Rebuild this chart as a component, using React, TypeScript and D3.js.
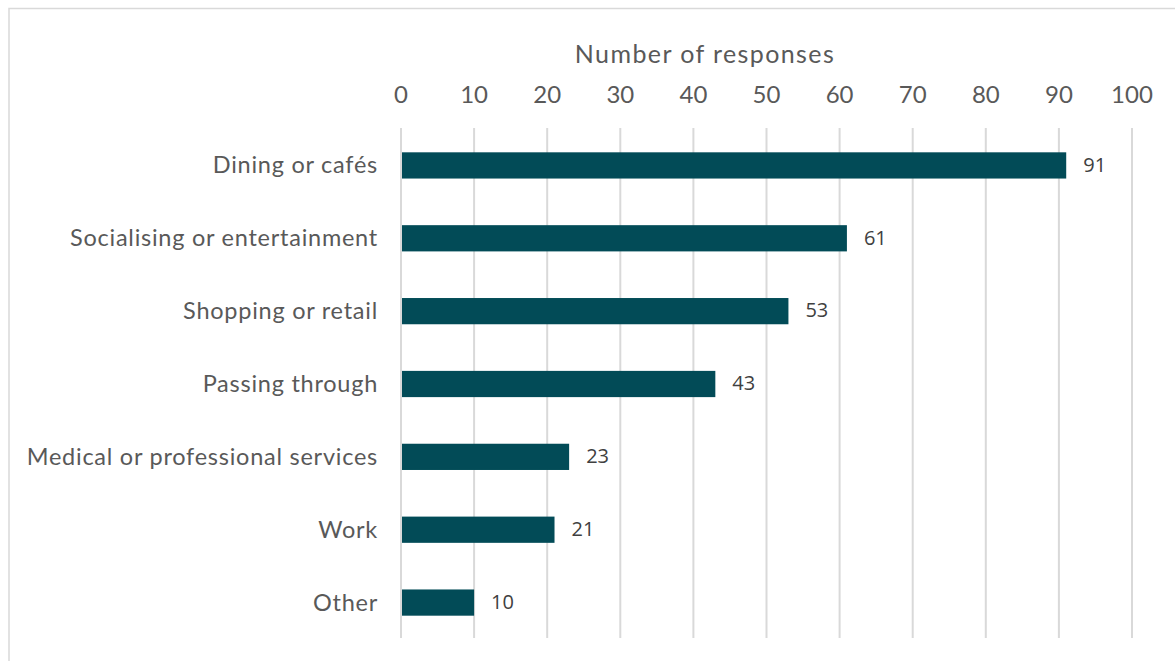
import React from "react";
import * as d3 from "d3";

const categories = [
  "Dining or cafés",
  "Socialising or entertainment",
  "Shopping or retail",
  "Passing through",
  "Medical or professional services",
  "Work",
  "Other",
];
const values = [91, 61, 53, 43, 23, 21, 10];
const ticks = [0, 10, 20, 30, 40, 50, 60, 70, 80, 90, 100];
const axisTitle = "Number of responses";

const W = 1175;
const H = 661;
const x = d3.scaleLinear().domain([0, 100]).range([401, 1132]);
const y = d3.scaleBand<string>().domain(categories).range([128, 638]).paddingInner(0.64).paddingOuter(0.32);

export default function App() {
  return (
    <svg
      width={W}
      height={H}
      style={{ position: "absolute", left: 0, top: 0, background: "#fff" }}
      fontFamily="Lato, 'Open Sans', sans-serif"
    >
      <rect x={9} y={8.5} width={W} height={H} fill="#fff" stroke="#d9d9d9" strokeWidth={1.5} />
      {ticks.map((t) => (
        <g key={t}>
          <line x1={x(t)} x2={x(t)} y1={128} y2={638} stroke="#d9d9d9" strokeWidth={2} />
          <text x={x(t)} y={97} textAnchor="middle" dominantBaseline="middle" fontSize={24} fill="#595959">
            {t}
          </text>
        </g>
      ))}
      <text
        x={705}
        y={57}
        textAnchor="middle"
        dominantBaseline="middle"
        fontSize={25}
        letterSpacing={1.4}
        fill="#595959"
      >
        {axisTitle}
      </text>
      {categories.map((c, i) => {
        const yy = y(c)!;
        const bh = y.bandwidth();
        return (
          <g key={c}>
            <rect x={x(0) + 1} y={yy + 1} width={x(values[i]) - x(0) - 1} height={bh} fill="#024b57" />
            <text
              x={378}
              y={yy + bh / 2 + 3}
              textAnchor="end"
              dominantBaseline="middle"
              fontSize={23.5}
              letterSpacing={0.75}
              fill="#595959"
            >
              {c}
            </text>
            <text
              x={x(values[i]) + 17}
              y={yy + bh / 2 + 2}
              dominantBaseline="middle"
              fontSize={20}
              fill="#404040"
              fontFamily="'Open Sans', sans-serif"
            >
              {values[i]}
            </text>
          </g>
        );
      })}
    </svg>
  );
}
